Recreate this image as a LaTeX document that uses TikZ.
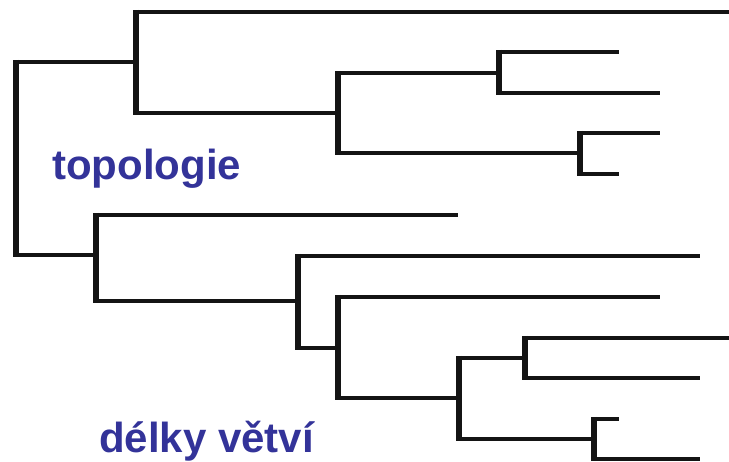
\documentclass[tikz,border=0pt]{standalone}
\usepackage{fontspec}
\setmainfont{Liberation Sans}
\usetikzlibrary{calc}
\definecolor{labelblue}{RGB}{51,51,153}
\tikzstyle{hbranch} = [line width=4pt, draw=black!92]
\tikzstyle{vbranch} = [line width=6pt, draw=black!92, shorten <=-2pt, shorten >=-2pt]
\tikzstyle{tagtext} = [font=\fontsize{42}{50}\selectfont\bfseries, text=labelblue, inner sep=0pt]

\begin{document}
\begin{tikzpicture}[x=1pt, y=-1pt]
		\useasboundingbox (0,0) rectangle (729,462);
		%内部节点
		\coordinate (root) at (15.5,158);
		\coordinate (nA) at (136,62);
		\coordinate (nC) at (338,113);
		\coordinate (nD) at (499,73);
		\coordinate (nE) at (580,153);
		\coordinate (nB) at (96,255);
		\coordinate (nF) at (298,301);
		\coordinate (nG) at (338,348);
		\coordinate (nH) at (459,398);
		\coordinate (nI) at (525,358);
		\coordinate (nJ) at (594,439);
		%叶节点
		\coordinate (leaf1) at (729,12);
		\coordinate (leaf2) at (619,52);
		\coordinate (leaf3) at (660,93);
		\coordinate (leaf4) at (660,133);
		\coordinate (leaf5) at (619,174);
		\coordinate (leaf6) at (458,215);
		\coordinate (leaf7) at (700,256);
		\coordinate (leaf8) at (660,297);
		\coordinate (leaf9) at (729,338);
		\coordinate (leaf10) at (700,378);
		\coordinate (leaf11) at (619,419);
		\coordinate (leaf12) at (700,459);
		
		%分支
		\draw [vbranch](root |- nA) -- (root |- nB);
		\draw [hbranch](root |- nA) -- (nA) (root |- nB) -- (nB);
		\draw [vbranch](nA |- leaf1) -- (nA |- nC);
		\draw [hbranch](nA |- leaf1) -- (leaf1) (nA |- nC) -- (nC);
		\draw [vbranch](nC |- nD) -- (nC |- nE);
		\draw [hbranch](nC |- nD) -- (nD) (nC |- nE) -- (nE);
		\draw [vbranch](nD |- leaf2) -- (nD |- leaf3);
		\draw [hbranch](nD |- leaf2) -- (leaf2) (nD |- leaf3) -- (leaf3);
		\draw [vbranch](nE |- leaf4) -- (nE |- leaf5);
		\draw [hbranch](nE |- leaf4) -- (leaf4) (nE |- leaf5) -- (leaf5);
		\draw [vbranch](nB |- leaf6) -- (nB |- nF);
		\draw [hbranch](nB |- leaf6) -- (leaf6) (nB |- nF) -- (nF);
		\draw [vbranch](nF |- leaf7) -- (nF |- nG);
		\draw [hbranch](nF |- leaf7) -- (leaf7) (nF |- nG) -- (nG);
		\draw [vbranch](nG |- leaf8) -- (nG |- nH);
		\draw [hbranch](nG |- leaf8) -- (leaf8) (nG |- nH) -- (nH);
		\draw [vbranch](nH |- nI) -- (nH |- nJ);
		\draw [hbranch](nH |- nI) -- (nI) (nH |- nJ) -- (nJ);
		\draw [vbranch](nI |- leaf9) -- (nI |- leaf10);
		\draw [hbranch](nI |- leaf9) -- (leaf9) (nI |- leaf10) -- (leaf10);
		\draw [vbranch](nJ |- leaf11) -- (nJ |- leaf12);
		\draw [hbranch](nJ |- leaf11) -- (leaf11) (nJ |- leaf12) -- (leaf12);
		
		%标签
		\node (topo) [tagtext, anchor=base west] at (52,180) {topologie};
		\node (delky) [tagtext, anchor=base west] at (99,453) {délky větví};
	\end{tikzpicture}
\end{document}
